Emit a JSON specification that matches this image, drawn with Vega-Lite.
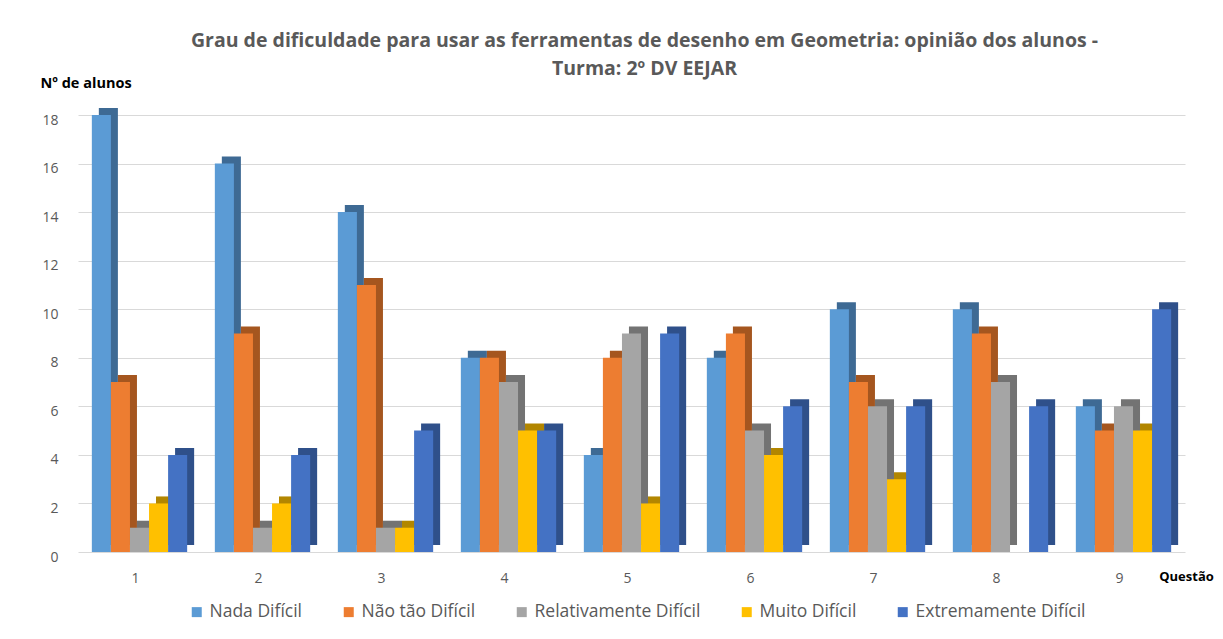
{
  "$schema": "https://vega.github.io/schema/vega-lite/v6.json",
  "autosize": {"type": "none"},
  "width": 1107,
  "height": 437,
  "padding": {"left": 78, "top": 115, "right": 38, "bottom": 87},
  "background": "white",
  "config": {"view": {"stroke": null}, "font": "Open Sans"},
  "title": {
    "text": ["Grau de dificuldade para usar as ferramentas de desenho em Geometria: opinião dos alunos -", "Turma: 2º DV EEJAR"],
    "font": "Open Sans",
    "fontSize": 19.5,
    "fontWeight": "bold",
    "color": "#595959",
    "anchor": "middle",
    "lineHeight": 28,
    "dx": 13,
    "offset": -4
  },
  "data": {
    "values": [
      {"q": "1", "s": "Nada Difícil", "v": 18},
      {"q": "1", "s": "Não tão Difícil", "v": 7},
      {"q": "1", "s": "Relativamente Difícil", "v": 1},
      {"q": "1", "s": "Muito Difícil", "v": 2},
      {"q": "1", "s": "Extremamente Difícil", "v": 4},
      {"q": "2", "s": "Nada Difícil", "v": 16},
      {"q": "2", "s": "Não tão Difícil", "v": 9},
      {"q": "2", "s": "Relativamente Difícil", "v": 1},
      {"q": "2", "s": "Muito Difícil", "v": 2},
      {"q": "2", "s": "Extremamente Difícil", "v": 4},
      {"q": "3", "s": "Nada Difícil", "v": 14},
      {"q": "3", "s": "Não tão Difícil", "v": 11},
      {"q": "3", "s": "Relativamente Difícil", "v": 1},
      {"q": "3", "s": "Muito Difícil", "v": 1},
      {"q": "3", "s": "Extremamente Difícil", "v": 5},
      {"q": "4", "s": "Nada Difícil", "v": 8},
      {"q": "4", "s": "Não tão Difícil", "v": 8},
      {"q": "4", "s": "Relativamente Difícil", "v": 7},
      {"q": "4", "s": "Muito Difícil", "v": 5},
      {"q": "4", "s": "Extremamente Difícil", "v": 5},
      {"q": "5", "s": "Nada Difícil", "v": 4},
      {"q": "5", "s": "Não tão Difícil", "v": 8},
      {"q": "5", "s": "Relativamente Difícil", "v": 9},
      {"q": "5", "s": "Muito Difícil", "v": 2},
      {"q": "5", "s": "Extremamente Difícil", "v": 9},
      {"q": "6", "s": "Nada Difícil", "v": 8},
      {"q": "6", "s": "Não tão Difícil", "v": 9},
      {"q": "6", "s": "Relativamente Difícil", "v": 5},
      {"q": "6", "s": "Muito Difícil", "v": 4},
      {"q": "6", "s": "Extremamente Difícil", "v": 6},
      {"q": "7", "s": "Nada Difícil", "v": 10},
      {"q": "7", "s": "Não tão Difícil", "v": 7},
      {"q": "7", "s": "Relativamente Difícil", "v": 6},
      {"q": "7", "s": "Muito Difícil", "v": 3},
      {"q": "7", "s": "Extremamente Difícil", "v": 6},
      {"q": "8", "s": "Nada Difícil", "v": 10},
      {"q": "8", "s": "Não tão Difícil", "v": 9},
      {"q": "8", "s": "Relativamente Difícil", "v": 7},
      {"q": "8", "s": "Muito Difícil", "v": 0},
      {"q": "8", "s": "Extremamente Difícil", "v": 6},
      {"q": "9", "s": "Nada Difícil", "v": 6},
      {"q": "9", "s": "Não tão Difícil", "v": 5},
      {"q": "9", "s": "Relativamente Difícil", "v": 6},
      {"q": "9", "s": "Muito Difícil", "v": 5},
      {"q": "9", "s": "Extremamente Difícil", "v": 10}
    ]
  },
  "encoding": {
    "x": {
      "field": "q",
      "type": "nominal",
      "sort": null,
      "scale": {"paddingInner": 0.225, "paddingOuter": 0.1125},
      "axis": {
        "labelAngle": 0,
        "labelFontSize": 14,
        "labelColor": "#595959",
        "labelPadding": 19,
        "labelOffset": -4,
        "domain": false,
        "ticks": false,
        "title": "Questão",
        "titleFontSize": 13,
        "titleFontWeight": "bold",
        "titleColor": "#000000",
        "titleX": 1108,
        "titleY": 24,
        "titleAlign": "center",
        "titleBaseline": "middle"
      }
    },
    "y": {
      "field": "v",
      "type": "quantitative",
      "scale": {"domain": [0, 18], "nice": false},
      "axis": {
        "values": [0, 2, 4, 6, 8, 10, 12, 14, 16, 18],
        "grid": true,
        "gridColor": "#d9d9d9",
        "domain": false,
        "ticks": false,
        "labelFontSize": 14,
        "labelColor": "#595959",
        "labelPadding": 20,
        "labelOffset": 5,
        "title": "Nº de alunos",
        "titleAngle": 0,
        "titleFontSize": 14.5,
        "titleFontWeight": "bold",
        "titleColor": "#000000",
        "titleX": -38,
        "titleY": -32,
        "titleAlign": "left",
        "titleBaseline": "middle"
      }
    }
  },
  "layer": [
    {
      "mark": {"type": "bar", "yOffset": -7},
      "encoding": {
        "xOffset": {
          "field": "s",
          "type": "nominal",
          "sort": ["Nada Difícil", "Não tão Difícil", "Relativamente Difícil", "Muito Difícil", "Extremamente Difícil"],
          "scale": {"range": [7, 102.3]}
        },
        "color": {
          "field": "s",
          "type": "nominal",
          "scale": {
            "domain": ["Nada Difícil", "Não tão Difícil", "Relativamente Difícil", "Muito Difícil", "Extremamente Difícil"],
            "range": ["#3E6A94", "#A5561F", "#737373", "#B28600", "#2F508A"]
          },
          "legend": null
        }
      }
    },
    {
      "mark": {"type": "bar"},
      "encoding": {
        "xOffset": {
          "field": "s",
          "type": "nominal",
          "sort": ["Nada Difícil", "Não tão Difícil", "Relativamente Difícil", "Muito Difícil", "Extremamente Difícil"]
        },
        "color": {
          "field": "s",
          "type": "nominal",
          "scale": {
            "domain": ["Nada Difícil", "Não tão Difícil", "Relativamente Difícil", "Muito Difícil", "Extremamente Difícil"],
            "range": ["#5B9BD5", "#ED7D31", "#A5A5A5", "#FFC000", "#4472C4"]
          },
          "legend": {
            "orient": "none",
            "direction": "horizontal",
            "legendX": 110,
            "legendY": 488,
            "title": null,
            "symbolType": "square",
            "symbolSize": 100,
            "symbolStrokeWidth": 0,
            "labelFontSize": 17.5,
            "labelLimit": 400,
            "labelColor": "#595959",
            "labelOffset": 4,
            "columnPadding": 37
          }
        }
      }
    }
  ],
  "resolve": {"scale": {"color": "independent", "xOffset": "independent"}}
}
